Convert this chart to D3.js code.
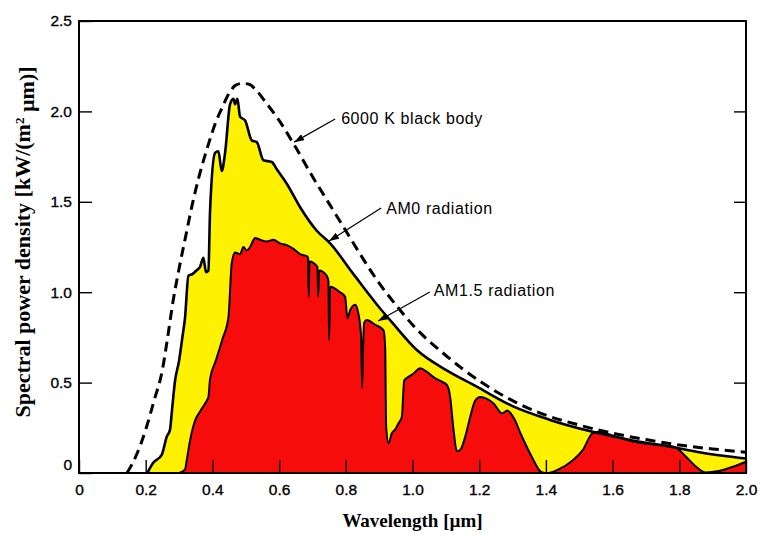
<!DOCTYPE html>
<html>
<head>
<meta charset="utf-8">
<script src="https://cdn.jsdelivr.net/npm/d3@7/dist/d3.min.js"></script>
<style>
  body { margin: 0; background: #fff; }
  svg { display: block; }
</style>
</head>
<body>
<svg></svg>
<script>
// values: [wavelength in um, kW/(m2 um)]
const blackBody = [
  [0.144, 0], [0.17, 0.09], [0.20, 0.24], [0.225, 0.40], [0.25, 0.57], [0.265, 0.74],
  [0.282, 0.95], [0.30, 1.13], [0.32, 1.31], [0.339, 1.48], [0.36, 1.64], [0.39, 1.83],
  [0.41, 1.94], [0.429, 2.02], [0.45, 2.10], [0.47, 2.145], [0.49, 2.155], [0.51, 2.15],
  [0.53, 2.12], [0.56, 2.05], [0.60, 1.95], [0.65, 1.80], [0.70, 1.64], [0.75, 1.49],
  [0.80, 1.34], [0.85, 1.19], [0.90, 1.05], [0.95, 0.93], [1.0, 0.82], [1.1, 0.65],
  [1.2, 0.51], [1.3, 0.40], [1.4, 0.32], [1.5, 0.265], [1.6, 0.22], [1.7, 0.185],
  [1.8, 0.155], [1.9, 0.133], [2.0, 0.115]
];

const am0 = [
  [0.205, 0], [0.222, 0.055], [0.248, 0.10], [0.263, 0.20], [0.273, 0.24], [0.278, 0.33],
  [0.288, 0.51], [0.300, 0.62], [0.310, 0.75], [0.318, 0.86], [0.328, 1.09], [0.340, 1.10],
  [0.352, 1.12], [0.363, 1.14], [0.373, 1.19], [0.381, 1.11], [0.388, 1.12], [0.393, 1.45],
  [0.408, 1.77], [0.418, 1.78], [0.428, 1.67], [0.438, 1.77], [0.453, 2.04], [0.463, 2.07],
  [0.468, 2.04], [0.475, 2.07], [0.483, 1.97], [0.498, 1.95], [0.518, 1.84], [0.533, 1.83],
  [0.553, 1.73], [0.578, 1.72], [0.593, 1.68], [0.623, 1.60], [0.663, 1.47], [0.713, 1.34],
  [0.753, 1.27], [0.823, 1.10], [0.903, 0.91], [0.94, 0.83], [1.013, 0.68], [1.10, 0.57],
  [1.19, 0.48], [1.30, 0.37], [1.41, 0.295], [1.54, 0.228], [1.66, 0.18], [1.775, 0.145],
  [1.86, 0.115], [2.0, 0.08]
];

const am15 = [
  [0.300, 0], [0.318, 0.02], [0.323, 0.07], [0.333, 0.18], [0.348, 0.29], [0.363, 0.34],
  [0.378, 0.385], [0.388, 0.42], [0.393, 0.52], [0.410, 0.62], [0.430, 0.74], [0.448, 0.86],
  [0.458, 1.16], [0.468, 1.22], [0.483, 1.21], [0.493, 1.25], [0.503, 1.23], [0.513, 1.25],
  [0.528, 1.30], [0.543, 1.29], [0.563, 1.28], [0.583, 1.29], [0.603, 1.27], [0.623, 1.26],
  [0.643, 1.24], [0.663, 1.21], [0.683, 1.20], [0.687, 1.19], [0.689, 0.975], [0.691, 1.17],
  [0.715, 1.14], [0.717, 0.975], [0.720, 1.12], [0.743, 1.09], [0.748, 1.06], [0.750, 0.735],
  [0.753, 1.03], [0.783, 1.0], [0.798, 0.975], [0.805, 0.855], [0.813, 0.90], [0.828, 0.93],
  [0.838, 0.88], [0.846, 0.75], [0.849, 0.47], [0.852, 0.70], [0.855, 0.83], [0.863, 0.846],
  [0.888, 0.82], [0.913, 0.79], [0.918, 0.70], [0.921, 0.26], [0.928, 0.165], [0.938, 0.22],
  [0.948, 0.24], [0.958, 0.275], [0.968, 0.31], [0.975, 0.51], [0.983, 0.525], [1.003, 0.55],
  [1.023, 0.58], [1.043, 0.56], [1.063, 0.53], [1.088, 0.505], [1.103, 0.487], [1.113, 0.42],
  [1.123, 0.24], [1.133, 0.12], [1.143, 0.127], [1.158, 0.20], [1.173, 0.31], [1.188, 0.40],
  [1.203, 0.42], [1.223, 0.41], [1.243, 0.385], [1.269, 0.33], [1.284, 0.345], [1.305, 0.30],
  [1.326, 0.21], [1.356, 0.096], [1.387, 0.005], [1.407, 0], [1.438, 0.02], [1.479, 0.068],
  [1.51, 0.125], [1.54, 0.22], [1.556, 0.228], [1.612, 0.20], [1.673, 0.17], [1.755, 0.153],
  [1.786, 0.144], [1.817, 0.096], [1.847, 0.04], [1.878, 0.003], [1.918, 0.011], [1.97, 0.04],
  [2.0, 0.062]
];

const xTicks = [0, 0.2, 0.4, 0.6, 0.8, 1.0, 1.2, 1.4, 1.6, 1.8, 2.0];
const yTicks = [0, 0.5, 1.0, 1.5, 2.0, 2.5];

// labels: text start, arrow start, arrow tip (data units)
const notes = [
  { text: "6000 K black body", at: [0.786, 1.963], from: [0.768, 1.958], to: [0.645, 1.83] },
  { text: "AM0 radiation",     at: [0.921, 1.466], from: [0.906, 1.466], to: [0.750, 1.283] },
  { text: "AM1.5 radiation",   at: [1.064, 1.012], from: [1.052, 1.001], to: [0.897, 0.841] }
];

const margin = { top: 21, right: 14, bottom: 65, left: 79 },
      width = 760 - margin.left - margin.right,
      height = 538 - margin.top - margin.bottom;

const svg = d3.select("svg")
    .attr("width", width + margin.left + margin.right)
    .attr("height", height + margin.top + margin.bottom)
    .append("g")
    .attr("transform", `translate(${margin.left},${margin.top})`);

const x = d3.scaleLinear().domain([0, 2]).range([0, width]);
const y = d3.scaleLinear().domain([0, 2.5]).range([height, 0]);

const area = d3.area()
    .x(d => x(d[0]))
    .y0(height)
    .y1(d => y(d[1]))
    .curve(d3.curveMonotoneX);

const line = d3.line()
    .x(d => x(d[0]))
    .y(d => y(d[1]))
    .curve(d3.curveMonotoneX);

// filled spectra
svg.append("path").datum(am0)
    .attr("d", area)
    .style("fill", "#fff200");
svg.append("path").datum(am15)
    .attr("d", area)
    .style("fill", "#f70c0c");

svg.append("path").datum(am15)
    .attr("d", line)
    .style("fill", "none").style("stroke", "#000")
    .style("stroke-width", 2).style("stroke-linejoin", "round");
svg.append("path").datum(am0)
    .attr("d", line)
    .style("fill", "none").style("stroke", "#000")
    .style("stroke-width", 2.6).style("stroke-linejoin", "round");
svg.append("path").datum(blackBody)
    .attr("d", line)
    .style("fill", "none").style("stroke", "#000")
    .style("stroke-width", 3).style("stroke-dasharray", "10,6");

// axes
const fmt = d => d === 0 ? "0" : d.toFixed(1);

const xAxis = svg.append("g")
    .attr("transform", `translate(0,${height})`)
    .call(d3.axisBottom(x).tickValues(xTicks).tickSize(-13).tickPadding(11).tickFormat(fmt));

const yAxis = svg.append("g")
    .call(d3.axisLeft(y).tickValues(yTicks).tickSize(-13).tickPadding(7).tickFormat(fmt));

const yAxisRight = svg.append("g")
    .attr("transform", `translate(${width},0)`)
    .call(d3.axisRight(y).tickValues([0.5, 1.0, 1.5, 2.0]).tickSize(-12).tickFormat(""));

svg.selectAll(".domain").remove();
svg.selectAll(".tick line").style("stroke", "#000").style("stroke-width", 1.4);
svg.selectAll(".tick text")
    .style("font-family", "'Liberation Sans', Arial, sans-serif")
    .style("font-size", "15.5px")
    .style("fill", "#000")
    .style("stroke", "#000")
    .style("stroke-width", 0.35);

// y "0" sits a little higher than the axis
yAxis.selectAll(".tick text").filter(d => d === 0).attr("dy", "-0.2em");

// frame
svg.append("rect")
    .attr("width", width)
    .attr("height", height)
    .style("fill", "none")
    .style("stroke", "#000")
    .style("stroke-width", 2);

// axis titles
svg.append("text")
    .attr("text-anchor", "middle")
    .attr("x", width / 2)
    .attr("y", height + 54)
    .text("Wavelength [\u00b5m]")
    .style("font-family", "'Liberation Serif', 'Times New Roman', serif")
    .style("font-size", "19px")
    .style("font-weight", "bold");

const yTitle = svg.append("text")
    .attr("text-anchor", "middle")
    .attr("transform", `translate(${-margin.left + 30},${221}) rotate(-90)`)
    .style("font-family", "'Liberation Serif', 'Times New Roman', serif")
    .style("font-size", "22px")
    .style("font-weight", "bold");
yTitle.append("tspan").text("Spectral power density [kW/(m");
yTitle.append("tspan").text("2").attr("dy", "-0.45em").style("font-size", "13px");
yTitle.append("tspan").text(" \u00b5m)]").attr("dy", "0.45em");

// annotations with arrows
const defs = d3.select("svg").append("defs");
defs.append("marker")
    .attr("id", "arrow")
    .attr("markerUnits", "userSpaceOnUse")
    .attr("viewBox", "0 0 10 7")
    .attr("refX", 10).attr("refY", 3.5)
    .attr("markerWidth", 10).attr("markerHeight", 7)
    .attr("orient", "auto")
    .append("path")
    .attr("d", "M0,0 L10,3.5 L0,7 Z")
    .style("fill", "#000");

notes.forEach(n => {
    svg.append("line")
        .attr("x1", x(n.from[0])).attr("y1", y(n.from[1]))
        .attr("x2", x(n.to[0])).attr("y2", y(n.to[1]))
        .style("stroke", "#000")
        .style("stroke-width", 1.2)
        .attr("marker-end", "url(#arrow)");
    svg.append("text")
        .attr("x", x(n.at[0]))
        .attr("y", y(n.at[1]))
        .attr("dy", "0.35em")
        .text(n.text)
        .style("font-family", "'Liberation Sans', Arial, sans-serif")
        .style("font-size", "16px")
        .style("letter-spacing", "0.6px");
});
</script>
</body>
</html>
